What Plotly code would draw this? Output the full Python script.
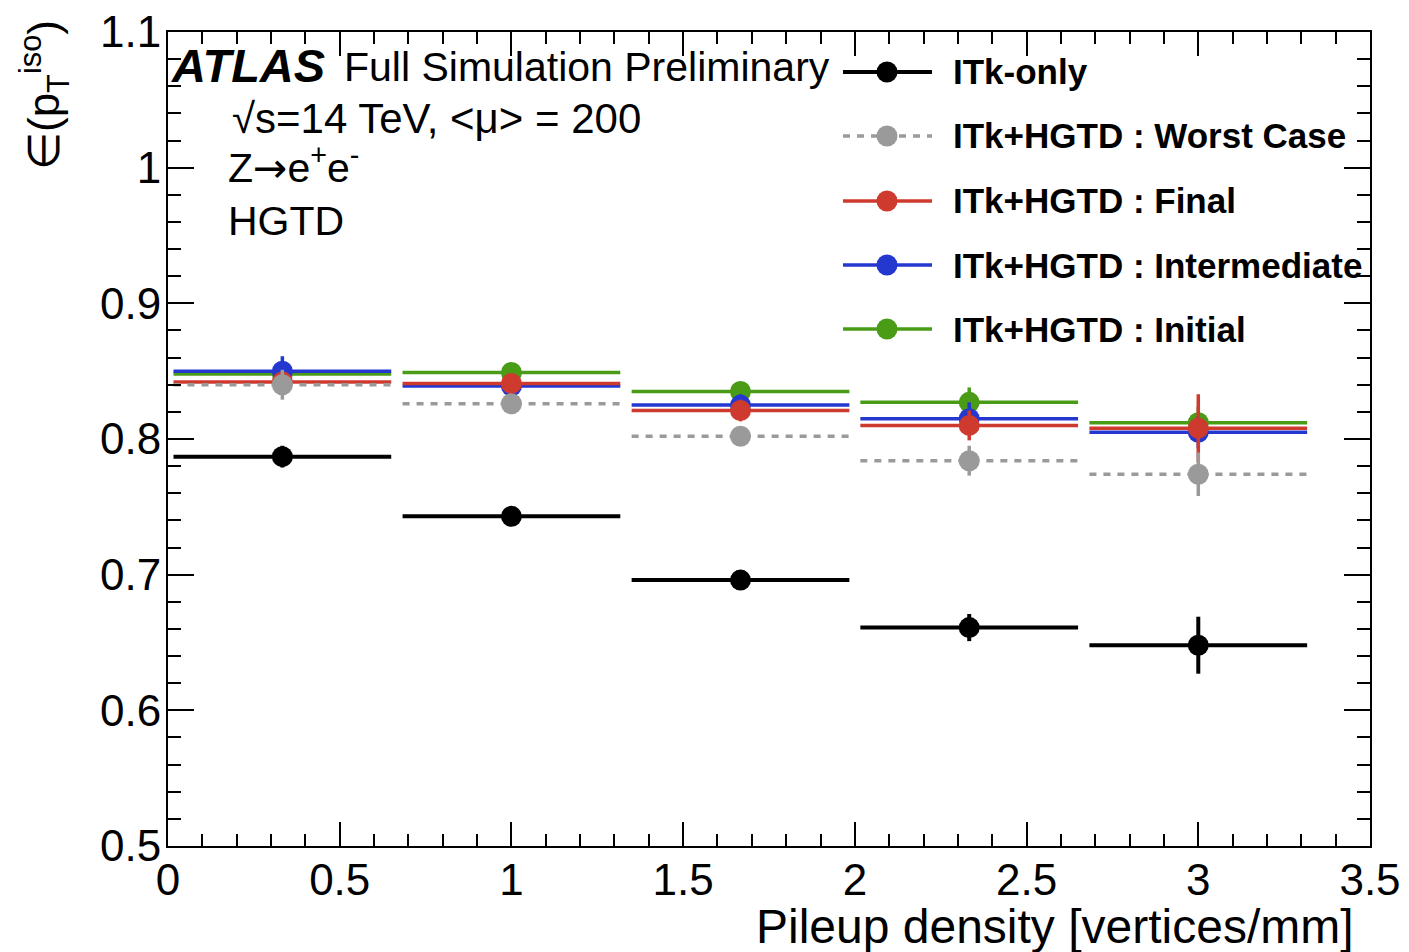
import plotly.graph_objects as go

# ---------------- data ----------------
pileup_density = [0.333, 1.0, 1.667, 2.333, 3.0]
bin_halfwidth = [0.317, 0.317, 0.317, 0.317, 0.317]

itk_only = [0.787, 0.743, 0.696, 0.661, 0.648]
itk_only_err = [0.008, 0.005, 0.006, 0.010, 0.021]

worst_case = [0.840, 0.826, 0.802, 0.784, 0.774]
worst_case_err = [0.011, 0.006, 0.006, 0.011, 0.016]

final = [0.842, 0.841, 0.821, 0.810, 0.808]
final_err = [0.006, 0.006, 0.008, 0.011, 0.025]

intermediate = [0.850, 0.839, 0.825, 0.815, 0.805]
intermediate_err = [0.011, 0.006, 0.008, 0.012, 0.012]

initial = [0.848, 0.849, 0.835, 0.827, 0.812]
initial_err = [0.006, 0.006, 0.007, 0.011, 0.012]

legend_labels = ["ITk-only", "ITk+HGTD : Worst Case", "ITk+HGTD : Final",
                 "ITk+HGTD : Intermediate", "ITk+HGTD : Initial"]

# ---------------- style ----------------
FONT = "Liberation Sans, Arial, Helvetica, sans-serif"
C_BLACK = "#000000"
C_GREY = "#9a9a9a"
C_RED = "#cf3a2f"
C_BLUE = "#2438d0"
C_GREEN = "#4a9c17"

series = {
    "ITk-only": (itk_only, itk_only_err, C_BLACK, "solid", 4),
    "ITk+HGTD : Worst Case": (worst_case, worst_case_err, C_GREY, "7px,7px", 3.5),
    "ITk+HGTD : Final": (final, final_err, C_RED, "solid", 3.5),
    "ITk+HGTD : Intermediate": (intermediate, intermediate_err, C_BLUE, "solid", 3.5),
    "ITk+HGTD : Initial": (initial, initial_err, C_GREEN, "solid", 3.5),
}
draw_order = ["ITk+HGTD : Initial", "ITk+HGTD : Intermediate", "ITk+HGTD : Final",
              "ITk+HGTD : Worst Case", "ITk-only"]

fig = go.Figure()

for name in draw_order:
    vals, errs, col, dash, lw = series[name]
    hx, hy = [], []
    for c, h, v in zip(pileup_density, bin_halfwidth, vals):
        hx += [c - h, c + h, None]
        hy += [v, v, None]
    fig.add_trace(go.Scatter(x=hx, y=hy, mode="lines",
                             line=dict(color=col, width=lw, dash=dash),
                             hoverinfo="skip", showlegend=False))
    fig.add_trace(go.Scatter(x=pileup_density, y=vals, mode="markers", name=name,
                             marker=dict(color=col, size=21),
                             error_y=dict(type="data", array=errs, color=col,
                                          thickness=lw, width=0),
                             showlegend=False))

# ---------------- layout ----------------
# page body has an 8px margin; target plot area on screen: x 168..1370, y 32..846
OFF = 8
W, H = 1401, 944
L, T = 168 - OFF, 32 - OFF
R, B = W + OFF - 1370, H + OFF - 846
pw, ph = W - L - R, H - T - B


def px(xpix):
    return (xpix - OFF - L) / pw


def py(ypix):
    return 1 - (ypix - OFF - T) / ph


axis_common = dict(
    showgrid=False, zeroline=False, showline=True, linecolor="black", linewidth=2,
    mirror="allticks", ticks="inside", tickcolor="black", tickwidth=1.5,
    automargin=False, ticklabeloverflow="allow",
    tickfont=dict(family=FONT, size=44, color="black"),
)

fig.update_layout(
    width=W, height=H,
    margin=dict(l=L, r=R, t=T, b=B, autoexpand=False),
    paper_bgcolor="white", plot_bgcolor="white",
    showlegend=False,
    xaxis=dict(range=[0, 3.5], dtick=0.5, tick0=0, ticklen=24,
               minor=dict(dtick=0.1, ticks="inside", ticklen=12, tickcolor="black", tickwidth=1.5),
               ticklabelstandoff=-6,
               **axis_common),
    yaxis=dict(range=[0.5, 1.1], dtick=0.1, tick0=0.5, ticklen=26,
               minor=dict(dtick=0.02, ticks="inside", ticklen=13, tickcolor="black", tickwidth=1.5),
               ticklabelstandoff=-4,
               **axis_common),
)

annotations = []
# axis titles
annotations.append(dict(text="Pileup density [vertices/mm]", xref="paper", yref="paper",
                        x=1, y=0, xanchor="right", yanchor="top", yshift=-52, xshift=-14,
                        showarrow=False, font=dict(family=FONT, size=48, color="black")))
annotations.append(dict(text="∈(p<sub>T</sub><sup>iso</sup>)", xref="paper", yref="paper",
                        x=0, y=1, xanchor="center", yanchor="top", xshift=-124, yshift=14,
                        textangle=-90, showarrow=False,
                        font=dict(family=FONT, size=44, color="black")))
# ATLAS label block
annotations.append(dict(text="<b><i>ATLAS</i></b>", xref="paper", yref="paper",
                        x=px(169), y=py(66), xanchor="left", yanchor="middle",
                        showarrow=False, font=dict(family=FONT, size=47, color="black")))
annotations.append(dict(text="Full Simulation Preliminary", xref="paper", yref="paper",
                        x=px(342), y=py(67), xanchor="left", yanchor="middle",
                        showarrow=False, font=dict(family=FONT, size=41, color="black")))
annotations.append(dict(text="√s=14 TeV, &lt;μ&gt; = 200", xref="paper", yref="paper",
                        x=px(230), y=py(119), xanchor="left", yanchor="middle",
                        showarrow=False, font=dict(family=FONT, size=42, color="black")))
annotations.append(dict(text="Z<span style=\"font-family:DejaVu Sans\">→</span>e<sup>+</sup>e<sup>-</sup>",
                        xref="paper", yref="paper",
                        x=px(226), y=py(166), xanchor="left", yanchor="middle",
                        showarrow=False, font=dict(family=FONT, size=41, color="black")))
annotations.append(dict(text="HGTD", xref="paper", yref="paper",
                        x=px(226), y=py(221), xanchor="left", yanchor="middle",
                        showarrow=False, font=dict(family=FONT, size=41, color="black")))

# manual legend
legend_rows = [72, 136, 201, 265, 329]
shapes = []
for label, row in zip(legend_labels, legend_rows):
    vals, errs, col, dash, lw = series[label]
    yy = py(row)
    shapes.append(dict(type="line", xref="paper", yref="paper",
                       x0=px(843), x1=px(932), y0=yy, y1=yy,
                       line=dict(color=col, width=lw, dash=dash)))
    shapes.append(dict(type="circle", xref="paper", yref="paper",
                       xsizemode="pixel", ysizemode="pixel",
                       xanchor=px(887), yanchor=yy, x0=-10.5, x1=10.5, y0=-10.5, y1=10.5,
                       fillcolor=col, line=dict(color=col, width=0)))
    annotations.append(dict(text="<b>" + label + "</b>", xref="paper", yref="paper",
                            x=px(951), y=yy, xanchor="left", yanchor="middle",
                            showarrow=False, font=dict(family=FONT, size=35, color="black")))

fig.update_layout(annotations=annotations, shapes=shapes)

fig.write_html("out.html")
